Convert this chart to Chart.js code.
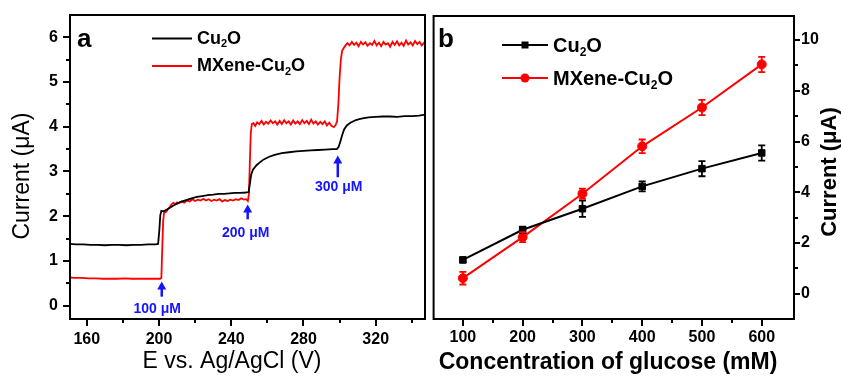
<!DOCTYPE html>
<html>
<head>
<meta charset="utf-8">
<script src="https://cdn.jsdelivr.net/npm/chart.js@4.4.1/dist/chart.umd.min.js"></script>
<style>
  html, body { margin: 0; padding: 0; background: #fff; }
  #wrap { position: relative; width: 841px; height: 376px; overflow: hidden; }
  canvas { position: absolute; top: 0; }
  #chartA { left: 0; }
  #chartB { left: 428px; }
</style>
</head>
<body>
<div id="wrap">
  <canvas id="chartA" width="428" height="376"></canvas>
  <canvas id="chartB" width="413" height="376"></canvas>
</div>
<script>
// ---- panel a : amperometric response ----
const potCu = [150,154,158,162,166,170,174,178,182,186,190,194,198,
  199.5,200.2,200.7,201.3,202.5,204,206,208,210,212,
  215,218,221,224,227,230,233,236,239,242,245,248,
  249.6,250.3,251,252,254,256,258,261,264,268,272,276,280,284,288,292,296,
  298.5,299.5,300.5,301.5,302.5,304,306,309,312,316,320,324,328,332,336,340,344,347.3];
const curCu = [1.38,1.37,1.37,1.36,1.36,1.35,1.36,1.36,1.35,1.36,1.36,1.37,1.37,
  1.38,1.7,2.02,2.12,2.11,2.14,2.19,2.24,2.28,2.32,
  2.36,2.40,2.43,2.45,2.47,2.48,2.50,2.50,2.51,2.52,2.52,2.53,
  2.54,2.72,2.92,3.04,3.14,3.21,3.27,3.33,3.37,3.41,3.43,3.45,3.46,3.47,3.48,3.49,3.50,
  3.50,3.55,3.68,3.82,3.94,4.03,4.09,4.15,4.18,4.21,4.22,4.23,4.23,4.22,4.24,4.24,4.25,4.27];

const potMx = [150,153,157,161,165,169,173,177,181,185,189,193,197,200.5,201.3,201.8,202.3,202.8,
  204,205,206,207,208,209,210,211,212.5,214,215.5,217,218.5,220,221.5,223,224.5,226,227.5,229,
  230.5,232,233.5,235,236.5,238,239.5,241,242.5,244,245.5,247,248.3,249.2,249.8,250.3,250.8,
  251.4,252.3,253.3,254.3,255.5,256.8,258,259.2,260.5,261.8,263,264.3,265.5,266.8,268,269.3,
  270.5,271.8,273,274.3,275.5,276.8,278,279.3,280.5,281.8,283,284.3,285.5,286.8,288,289.3,
  290.5,291.8,293,294.3,295.5,296.8,297.8,298.6,299.3,300,300.7,301.4,302.3,303.3,304.3,
  305.5,306.8,308,309.3,310.5,311.8,313,314.3,315.5,316.8,318,319.3,320.5,321.8,323,324.3,
  325.5,326.8,328,329.3,330.5,331.8,333,334.3,335.5,336.8,338,339.3,340.5,341.8,343,344.3,
  345.5,346.8,347.3];
const curMx = [0.63,0.62,0.62,0.61,0.61,0.60,0.60,0.60,0.61,0.60,0.60,0.60,0.60,0.60,0.62,1.3,1.9,2.08,
  2.10,2.16,2.21,2.27,2.30,2.27,2.31,2.29,2.33,2.30,2.35,2.33,2.38,2.34,2.37,2.35,2.39,2.35,2.38,2.34,
  2.37,2.35,2.38,2.33,2.36,2.34,2.37,2.35,2.38,2.36,2.40,2.37,2.38,2.34,2.50,3.2,3.85,
  4.06,4.08,4.02,4.10,4.06,4.13,4.05,4.11,4.07,4.14,4.08,4.12,4.05,4.13,4.06,4.15,
  4.08,4.12,4.05,4.14,4.07,4.12,4.06,4.15,4.08,4.13,4.06,4.16,4.07,4.12,4.05,4.11,
  4.06,4.12,4.03,4.09,4.02,3.99,4.04,4.12,4.5,5.1,5.5,5.7,5.76,5.82,5.87,
  5.82,5.90,5.83,5.88,5.80,5.90,5.84,5.89,5.81,5.87,5.83,5.92,5.82,5.88,5.80,5.90,
  5.84,5.87,5.79,5.90,5.83,5.91,5.82,5.88,5.81,5.93,5.84,5.89,5.82,5.92,5.85,5.90,
  5.82,5.88,5.85];

const aXTicks = [160, 200, 240, 280, 320];
const aXMinor = [180, 220, 260, 300, 340];
const aYTicks = [0, 1, 2, 3, 4, 5, 6];
const aYMinor = [0.5, 1.5, 2.5, 3.5, 4.5, 5.5];

// glucose additions marked with arrows (data units)
const addLabels = ['100 \u03BCM', '200 \u03BCM', '300 \u03BCM'];
const addX = [201.5, 249.1, 299];
const addTip = [0.54, 2.26, 3.36];
const addBase = [0.2, 1.93, 2.87];
const addTextX = [199, 248, 299.5];
const addTextY = [-0.07, 1.61, 2.65];

// ---- panel b : calibration ----
const glucose = [100, 200, 300, 400, 500, 600];
const respCu = [1.33, 2.52, 3.35, 4.23, 4.93, 5.55];
const errCu = [0.1, 0.12, 0.32, 0.2, 0.3, 0.3];
const respMx = [0.61, 2.23, 3.94, 5.81, 7.34, 9.04];
const errMx = [0.25, 0.2, 0.2, 0.27, 0.3, 0.3];

const bXTicks = [100, 200, 300, 400, 500, 600];
const bXMinor = [150, 250, 350, 450, 550];
const bYTicks = [0, 2, 4, 6, 8, 10];
const bYMinor = [1, 3, 5, 7, 9];

const seriesNames = ['Cu2O', 'MXene-Cu2O'];
const FONT = "'Liberation Sans', Arial, sans-serif";
const BLUE = '#1414ff';

function fixTicks(values) {
  return s => { s.ticks = values.map(v => ({ value: v })); };
}

// text with the 2 of Cu2O as subscript
function drawFormula(ctx, str, x, y, size, weight) {
  const parts = str.split(/(\d)/).filter(p => p.length);
  const big = weight + ' ' + size + 'px ' + FONT;
  const small = weight + ' ' + Math.round(size * 0.62) + 'px ' + FONT;
  ctx.textBaseline = 'middle';
  ctx.textAlign = 'left';
  let cx = x;
  parts.forEach(p => {
    const sub = /^\d$/.test(p);
    ctx.font = sub ? small : big;
    ctx.fillText(p, cx, sub ? y + size * 0.3 : y);
    cx += ctx.measureText(p).width;
  });
}

function rotText(ctx, txt, x, y, font) {
  ctx.save();
  ctx.translate(x, y);
  ctx.rotate(-Math.PI / 2);
  ctx.font = font;
  ctx.textAlign = 'center';
  ctx.textBaseline = 'middle';
  ctx.fillText(txt, 0, 0);
  ctx.restore();
}

const framePlugin = {
  id: 'frame',
  afterDatasetsDraw(chart) {
    const { ctx, chartArea: a } = chart;
    ctx.save();
    ctx.strokeStyle = '#000';
    ctx.lineWidth = 2;
    ctx.strokeRect(a.left, a.top, a.right - a.left, a.bottom - a.top);
    ctx.restore();
  }
};

function minorPlugin(xMinor, yMinor, ySide) {
  return {
    id: 'minor',
    afterDraw(chart) {
      const { ctx, chartArea: a, scales } = chart;
      ctx.save();
      ctx.strokeStyle = '#000';
      ctx.lineWidth = 2;
      ctx.beginPath();
      xMinor.forEach(v => {
        const px = Math.round(scales.x.getPixelForValue(v));
        ctx.moveTo(px, a.bottom);
        ctx.lineTo(px, a.bottom + 4);
      });
      yMinor.forEach(v => {
        const py = Math.round(scales.y.getPixelForValue(v));
        if (ySide === 'left') { ctx.moveTo(a.left - 4, py); ctx.lineTo(a.left, py); }
        else { ctx.moveTo(a.right, py); ctx.lineTo(a.right + 4, py); }
      });
      ctx.stroke();
      ctx.restore();
    }
  };
}

function tickFont() {
  return { family: FONT, size: 16, weight: 'bold' };
}

// ---------- chart a ----------
const panelAText = {
  id: 'panelAText',
  afterDraw(chart) {
    const { ctx, scales } = chart;
    ctx.save();
    ctx.fillStyle = '#000';
    ctx.font = 'bold 26px ' + FONT;
    ctx.textBaseline = 'alphabetic';
    ctx.textAlign = 'left';
    ctx.fillText('a', 77, 47);

    // legend
    const legCol = ['#000', '#ff0000'];
    const legY = [38.5, 66];
    legCol.forEach((c, i) => {
      ctx.strokeStyle = c;
      ctx.lineWidth = 2;
      ctx.beginPath();
      ctx.moveTo(152, legY[i]);
      ctx.lineTo(192, legY[i]);
      ctx.stroke();
      ctx.fillStyle = '#000';
      drawFormula(ctx, seriesNames[i], 197, legY[i] + 0.5, 18, 'bold');
    });

    // axis titles
    ctx.fillStyle = '#000';
    rotText(ctx, 'Current (\u03BCA)', 23, 176, '23px ' + FONT);
    ctx.font = '23px ' + FONT;
    ctx.textAlign = 'center';
    ctx.textBaseline = 'middle';
    ctx.fillText('E vs. Ag/AgCl (V)', 232, 362);

    // additions
    ctx.fillStyle = BLUE;
    ctx.strokeStyle = BLUE;
    addLabels.forEach((lab, i) => {
      const px = scales.x.getPixelForValue(addX[i]);
      const tip = scales.y.getPixelForValue(addTip[i]);
      const base = scales.y.getPixelForValue(addBase[i]);
      ctx.lineWidth = 2.5;
      ctx.beginPath();
      ctx.moveTo(px, base);
      ctx.lineTo(px, tip + 6);
      ctx.stroke();
      ctx.beginPath();
      ctx.moveTo(px, tip);
      ctx.lineTo(px - 4.5, tip + 8);
      ctx.lineTo(px + 4.5, tip + 8);
      ctx.closePath();
      ctx.fill();
      ctx.font = 'bold 14px ' + FONT;
      ctx.textAlign = 'center';
      ctx.textBaseline = 'middle';
      ctx.fillText(lab, scales.x.getPixelForValue(addTextX[i]), scales.y.getPixelForValue(addTextY[i]));
    });
    ctx.restore();
  }
};

function drawA() {
  new Chart(document.getElementById('chartA'), {
    type: 'line',
    data: {
      datasets: [
        { label: seriesNames[0], data: potCu.map((x, i) => ({ x: x, y: curCu[i] })),
          borderColor: '#000', borderWidth: 1.8, pointRadius: 0, tension: 0 },
        { label: seriesNames[1], data: potMx.map((x, i) => ({ x: x, y: curMx[i] })),
          borderColor: '#ff0000', borderWidth: 1.8, pointRadius: 0, tension: 0 }
      ]
    },
    options: {
      responsive: false,
      animation: false,
      devicePixelRatio: 1,
      layout: { padding: { top: 15, right: 3, left: 0, bottom: 0 } },
      plugins: { legend: { display: false }, tooltip: { enabled: false } },
      scales: {
        x: {
          type: 'linear', min: 150.7, max: 347.3,
          afterBuildTicks: fixTicks(aXTicks),
          afterFit: s => { s.height = 57; },
          grid: { drawOnChartArea: false, tickLength: 7, lineWidth: 2, color: '#000' },
          border: { display: false },
          ticks: { font: tickFont(), color: '#000', padding: 4, maxRotation: 0, autoSkip: false }
        },
        y: {
          type: 'linear', min: -0.3, max: 6.5,
          afterBuildTicks: fixTicks(aYTicks),
          afterFit: s => { s.width = 70; },
          grid: { drawOnChartArea: false, tickLength: 7, lineWidth: 2, color: '#000' },
          border: { display: false },
          ticks: { font: tickFont(), color: '#000', padding: 5, autoSkip: false }
        }
      }
    },
    plugins: [framePlugin, minorPlugin(aXMinor, aYMinor, 'left'), panelAText]
  });
}

// ---------- chart b ----------
const OFF = 428;
const errorBars = {
  id: 'errorBars',
  afterDatasetsDraw(chart) {
    const { ctx, scales } = chart;
    const sets = [[respCu, errCu, '#000'], [respMx, errMx, '#ff0000']];
    ctx.save();
    ctx.lineWidth = 1.8;
    sets.forEach(([vals, errs, col]) => {
      ctx.strokeStyle = col;
      ctx.beginPath();
      glucose.forEach((g, i) => {
        const px = scales.x.getPixelForValue(g);
        const lo = scales.y.getPixelForValue(vals[i] - errs[i]);
        const hi = scales.y.getPixelForValue(vals[i] + errs[i]);
        ctx.moveTo(px, lo); ctx.lineTo(px, hi);
        ctx.moveTo(px - 3.5, lo); ctx.lineTo(px + 3.5, lo);
        ctx.moveTo(px - 3.5, hi); ctx.lineTo(px + 3.5, hi);
      });
      ctx.stroke();
    });
    ctx.restore();
  }
};

const panelBText = {
  id: 'panelBText',
  afterDraw(chart) {
    const { ctx } = chart;
    ctx.save();
    ctx.fillStyle = '#000';
    ctx.font = 'bold 26px ' + FONT;
    ctx.textBaseline = 'alphabetic';
    ctx.textAlign = 'left';
    ctx.fillText('b', 438 - OFF, 47);

    const legCol = ['#000', '#ff0000'];
    const legY = [45, 78];
    legCol.forEach((c, i) => {
      ctx.strokeStyle = c;
      ctx.fillStyle = c;
      ctx.lineWidth = 2;
      ctx.beginPath();
      ctx.moveTo(502 - OFF, legY[i]);
      ctx.lineTo(548 - OFF, legY[i]);
      ctx.stroke();
      const mx = 525 - OFF;
      if (i === 0) {
        ctx.fillRect(mx - 3.5, legY[i] - 3.5, 7, 7);
      } else {
        ctx.beginPath();
        ctx.arc(mx, legY[i], 4.5, 0, Math.PI * 2);
        ctx.fill();
      }
      ctx.fillStyle = '#000';
      drawFormula(ctx, seriesNames[i], 553 - OFF, legY[i] + 1.5, 20, 'bold');
    });

    ctx.fillStyle = '#000';
    ctx.font = 'bold 23px ' + FONT;
    ctx.textAlign = 'center';
    ctx.textBaseline = 'middle';
    ctx.fillText('Concentration of glucose (mM)', 608 - OFF, 363);
    rotText(ctx, 'Current (\u03BCA)', 830 - OFF, 172, 'bold 22px ' + FONT);
    ctx.restore();
  }
};

function drawB() {
  new Chart(document.getElementById('chartB'), {
    type: 'line',
    data: {
      datasets: [
        { label: seriesNames[0], data: glucose.map((g, i) => ({ x: g, y: respCu[i] })),
          borderColor: '#000', backgroundColor: '#000', borderWidth: 2,
          pointStyle: 'rect', pointRadius: 4.6, pointBorderWidth: 1, tension: 0 },
        { label: seriesNames[1], data: glucose.map((g, i) => ({ x: g, y: respMx[i] })),
          borderColor: '#ff0000', backgroundColor: '#ff0000', borderWidth: 2,
          pointStyle: 'circle', pointRadius: 4.5, pointBorderWidth: 1, tension: 0 }
      ]
    },
    options: {
      responsive: false,
      animation: false,
      devicePixelRatio: 1,
      layout: { padding: { top: 16, right: 0, left: 4, bottom: 0 } },
      plugins: { legend: { display: false }, tooltip: { enabled: false } },
      scales: {
        x: {
          type: 'linear', min: 51, max: 654,
          afterBuildTicks: fixTicks(bXTicks),
          afterFit: s => { s.height = 57; },
          grid: { drawOnChartArea: false, tickLength: 7, lineWidth: 2, color: '#000' },
          border: { display: false },
          ticks: { font: tickFont(), color: '#000', padding: 2, maxRotation: 0, autoSkip: false }
        },
        y: {
          type: 'linear', position: 'right', min: -1, max: 10.95,
          afterBuildTicks: fixTicks(bYTicks),
          afterFit: s => { s.width = 47; },
          grid: { drawOnChartArea: false, tickLength: 6, lineWidth: 2, color: '#000' },
          border: { display: false },
          ticks: { font: tickFont(), color: '#000', padding: 1, autoSkip: false }
        }
      }
    },
    plugins: [framePlugin, minorPlugin(bXMinor, bYMinor, 'right'), errorBars, panelBText]
  });
}

Promise.all([
  document.fonts.load('bold 16px "Liberation Sans"'),
  document.fonts.load('16px "Liberation Sans"')
]).catch(() => {}).then(() => { drawA(); drawB(); });
</script>
</body>
</html>
